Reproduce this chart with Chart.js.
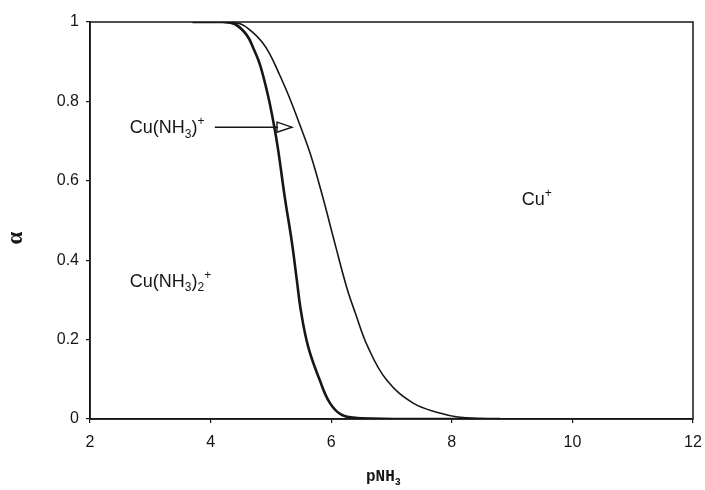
<!DOCTYPE html>
<html>
<head>
<meta charset="utf-8">
<script src="https://cdn.jsdelivr.net/npm/chart.js@4.4.1/dist/chart.umd.min.js"></script>
<style>
  html, body { margin: 0; padding: 0; background: #fff; }
  #wrap { width: 705px; height: 490px; }
</style>
</head>
<body>
<div id="wrap"><canvas id="chart"></canvas></div>
<script>
'use strict';

/* ── Data: cumulative fractions vs pNH3 ───────────────── */
// lower boundary (bold): Cu(NH3)2+ fraction
const boldX = [3.7, 4.2, 4.4, 4.6, 4.72, 4.82, 4.95, 5.05, 5.12, 5.23, 5.35, 5.43, 5.5, 5.62, 5.81, 5.98, 6.18, 6.5, 7.5, 8.8];
const boldY = [1, 1, 0.995, 0.967, 0.93, 0.892, 0.816, 0.741, 0.678, 0.559, 0.443, 0.35, 0.27, 0.181, 0.098, 0.040, 0.010, 0.002, 0, 0];

// upper boundary (thin): Cu(NH3)2+ + Cu(NH3)+
const thinX = [3.7, 4.2, 4.5, 4.69, 4.85, 4.98, 5.12, 5.29, 5.48, 5.66, 5.86, 6.06, 6.26, 6.4, 6.61, 6.92, 7.36, 7.8, 8.1, 8.5, 8.8];
const thinY = [1, 1, 0.995, 0.975, 0.95, 0.92, 0.875, 0.816, 0.741, 0.665, 0.559, 0.443, 0.33, 0.267, 0.181, 0.098, 0.040, 0.015, 0.005, 0.001, 0];

const xTicks = [2, 4, 6, 8, 10, 12];
const yTicks = [0, 0.2, 0.4, 0.6, 0.8, 1];

// region labels, in data units (x = pNH3, y = alpha of baseline)
const labels = [
  { x: 2.66, y: 0.72, parts: [['Cu(NH', 0], ['3', -1], [')', 0], ['+', 1]] },
  { x: 9.16, y: 0.54, parts: [['Cu', 0], ['+', 1]] },
  { x: 2.66, y: 0.333, parts: [['Cu(NH', 0], ['3', -1], [')', 0], ['2', -1], ['+', 1]] }
];
const arrowFrom = [4.07, 0.735];
const arrowTo = [5.35, 0.735];

const FONT = '"Liberation Sans", Arial, sans-serif';
const INK = '#161616';

/* ── Helpers ───────────────────────────────────────────── */
const pts = (xs, ys) => xs.map((x, i) => ({ x, y: ys[i] }));

// text with sub/superscripts; lvl -1 = sub, 1 = sup
function drawRich(ctx, parts, x, y, size, family, weight) {
  let cx = x;
  parts.forEach(([t, lvl]) => {
    const fs = lvl ? Math.round(size * 0.65) : size;
    ctx.font = `${weight || 'normal'} ${fs}px ${family}`;
    const dy = lvl === -1 ? size * 0.25 : lvl === 1 ? -size * 0.45 : 0;
    ctx.fillText(t, cx, y + dy);
    cx += ctx.measureText(t).width;
  });
}

const decor = {
  id: 'decor',
  afterDraw(chart) {
    const { ctx, chartArea: a, scales: { x, y } } = chart;
    ctx.save();

    // frame
    ctx.strokeStyle = INK;
    ctx.lineWidth = 1.5;
    ctx.strokeRect(a.left, a.top, a.right - a.left, a.bottom - a.top);

    // region labels
    ctx.fillStyle = INK;
    ctx.textAlign = 'left';
    ctx.textBaseline = 'alphabetic';
    labels.forEach(l => drawRich(ctx, l.parts, x.getPixelForValue(l.x), y.getPixelForValue(l.y), 18, FONT));

    // arrow with open head
    const x0 = x.getPixelForValue(arrowFrom[0]), y0 = y.getPixelForValue(arrowFrom[1]);
    const x1 = x.getPixelForValue(arrowTo[0]), y1 = y.getPixelForValue(arrowTo[1]);
    ctx.lineWidth = 1.4;
    ctx.beginPath();
    ctx.moveTo(x0, y0);
    ctx.lineTo(x1 - 14, y1);
    ctx.stroke();
    ctx.beginPath();
    ctx.moveTo(x1 - 15, y1 - 5);
    ctx.lineTo(x1, y1);
    ctx.lineTo(x1 - 15, y1 + 5);
    ctx.closePath();
    ctx.stroke();

    // axis titles
    ctx.textAlign = 'left';
    drawRich(ctx, [['pNH', 0], ['3', -1]], 366, 481, 16, '"Liberation Mono", "DejaVu Sans Mono", monospace', 'bold');

    ctx.translate(22, 238);
    ctx.rotate(-Math.PI / 2);
    ctx.textAlign = 'center';
    ctx.font = 'bold 23px "Liberation Serif", serif';
    ctx.fillText('α', 0, 0);
    ctx.restore();
  }
};

/* ── Chart ─────────────────────────────────────────────── */
const tickFont = { family: FONT, size: 16 };
const fmt = v => String(+(+v).toFixed(1));

new Chart(document.getElementById('chart'), {
  type: 'scatter',
  data: {
    datasets: [
      {
        data: pts(boldX, boldY),
        showLine: true,
        borderColor: INK,
        borderWidth: 2.6,
        pointRadius: 0,
        tension: 0.4
      },
      {
        data: pts(thinX, thinY),
        showLine: true,
        borderColor: INK,
        borderWidth: 1.6,
        pointRadius: 0,
        tension: 0.4
      }
    ]
  },
  options: {
    responsive: true,
    maintainAspectRatio: false,
    animation: false,
    layout: { padding: { top: 22, right: 12, left: 0, bottom: 0 } },
    plugins: { legend: { display: false }, tooltip: { enabled: false } },
    scales: {
      x: {
        type: 'linear',
        min: 2,
        max: 12,
        afterBuildTicks: s => { s.ticks = xTicks.map(v => ({ value: v })); },
        afterFit: s => { s.height = 71; s.paddingLeft = 0; s.paddingRight = 0; },
        ticks: { font: tickFont, color: INK, padding: 10, callback: fmt },
        grid: { drawOnChartArea: false, drawTicks: true, tickLength: 4, color: INK, lineWidth: 1.2 },
        border: { display: true, color: INK, width: 1.5 }
      },
      y: {
        type: 'linear',
        min: 0,
        max: 1,
        afterBuildTicks: s => { s.ticks = yTicks.map(v => ({ value: v })); },
        afterFit: s => { s.width = 90; s.paddingTop = 0; s.paddingBottom = 0; },
        ticks: { font: tickFont, color: INK, padding: 7, callback: fmt },
        grid: { drawOnChartArea: false, drawTicks: true, tickLength: 4, color: INK, lineWidth: 1.2 },
        border: { display: true, color: INK, width: 1.5 }
      }
    }
  },
  plugins: [decor]
});
</script>
</body>
</html>
